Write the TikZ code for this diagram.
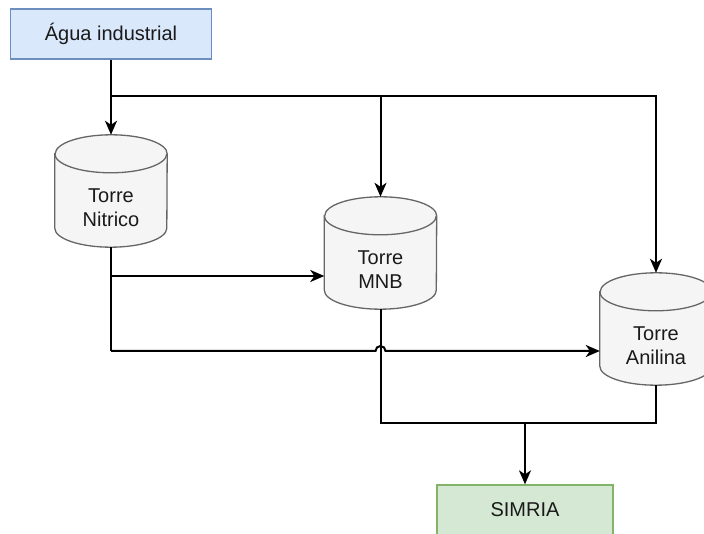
\documentclass[tikz,border=0pt]{standalone}
\usepackage{fontspec}
\setmainfont{Liberation Sans}
\usetikzlibrary{arrows.meta}

\definecolor{bluefill}{HTML}{DAE8FC}
\definecolor{bluestroke}{HTML}{6C8EBF}
\definecolor{greenfill}{HTML}{D5E8D4}
\definecolor{greenstroke}{HTML}{82B366}
\definecolor{tankfill}{HTML}{F5F5F5}
\definecolor{tankstroke}{HTML}{666666}
\definecolor{ink}{HTML}{1A1A1A}

\tikzset{
  every node/.style={font=\fontsize{20}{24}\selectfont, text=ink},
  procbox/.style={draw, line width=1.3pt, minimum width=201pt, minimum height=50pt, inner sep=0pt},
  tankbox/.style={minimum width=112pt, minimum height=112pt, inner sep=0pt},
  tankline/.style={draw=tankstroke, fill=tankfill, line width=1.3pt},
  tanklabel/.style={align=center, inner sep=0pt},
  pipe/.style={draw=black, line width=2pt},
  feed/.style={pipe, -{Stealth[length=14pt, width=12pt, inset=4pt]}},
}

% storage tank: invisible box for anchoring, cylinder outline, then its label
\newcommand\tank[3]{%
  \node[tankbox] (#1) at (#2) {};
  \path[tankline] ([yshift=-19pt]#1.north west) -- ([yshift=19pt]#1.south west)
    arc[start angle=180, end angle=360, x radius=56pt, y radius=19pt]
    -- ([yshift=-19pt]#1.north east)
    arc[start angle=0, end angle=180, x radius=56pt, y radius=19pt] -- cycle;
  \draw[draw=tankstroke, line width=1.3pt] ([yshift=-19pt]#1.north west)
    arc[start angle=180, end angle=360, x radius=56pt, y radius=19pt];
  \node[tanklabel] (#1-label) at ([yshift=-17pt]#1.center) {#3};
}

\begin{document}
\begin{tikzpicture}[x=1pt, y=-1pt]
  \useasboundingbox (0,0) rectangle (704,534);

  % source and destination
  \node[procbox, draw=bluestroke, fill=bluefill] (agua) at (111,34) {Água industrial};
  \node[procbox, draw=greenstroke, fill=greenfill, minimum width=176pt] (simria) at (525,510) {SIMRIA};

  % towers
  \tank{nit}{111,191}{Torre\\Nitrico}
  \tank{mnb}{380.5,253}{Torre\\MNB}
  \tank{ani}{656,329}{Torre\\Anilina}

  % junction points of the piping
  \coordinate (j1) at (111,96);
  \coordinate (j2) at (111,276);
  \coordinate (j3) at (111,351);
  \coordinate (m1) at (380.5,423);
  \coordinate (s1) at (525,423);

  % industrial water supply
  \draw[feed] (agua) -- (nit);
  \draw[feed] (j1) -| (mnb.north);
  \draw[feed] (j1) -| (ani.north);

  % Nitrico outlet to MNB and Anilina (hop over the MNB drain)
  \draw[feed] (j2) -- (mnb.west |- j2);
  \draw[pipe] (nit.south) -- (j3);
  \draw[feed] (j3) -- (375.5,351) arc[start angle=180, end angle=0, radius=5pt]
    -- ([yshift=-22pt]ani.west);

  % drains to SIMRIA
  \draw[pipe] (mnb.south) -- (m1) -- (656,423) -- (ani.south);
  \draw[feed] (s1) -- (simria.north);
\end{tikzpicture}
\end{document}
